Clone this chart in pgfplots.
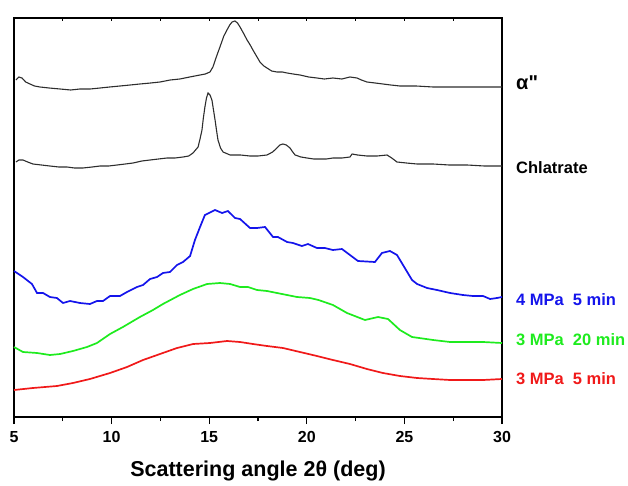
\documentclass[border=0pt]{standalone}
\usepackage{pgfplots}
\pgfplotsset{compat=1.18}
\usepackage{fontspec}
\setmainfont{Liberation Sans}[Ligatures=TeXOff]
\definecolor{xblue}{RGB}{20,20,235}
\definecolor{xgreen}{RGB}{30,235,30}
\definecolor{xred}{RGB}{240,25,25}
\definecolor{xgray}{RGB}{45,45,45}
\begin{document}
\begin{tikzpicture}
\begin{axis}[
  at={(0,0)}, anchor=south west,
  scale only axis, width=488pt, height=399pt,
  xmin=5, xmax=30, ymin=0, ymax=399,
  axis line style={line width=1.3pt},
  xtick={5,10,...,30}, minor x tick num=1,
  ytick=\empty,
  xtick pos=bottom, tick align=outside,
  major tick length=7pt, minor tick length=4pt,
  every tick/.style={black, line width=1.2pt},
  /pgf/number format/assume math mode=true,
  ticklabel style={font=\bfseries\fontsize{16}{16}\selectfont},
  xticklabel style={yshift=-4pt},
  xlabel={Scattering angle 2θ (deg)},
  xlabel style={font=\bfseries\fontsize{21.5}{21.5}\selectfont, yshift=-11pt},
  clip=false,
]
% alpha'' phase
\addplot[xgray, line width=1.1pt] coordinates {
(5.10,337) (5.25,340) (5.41,339) (5.60,335) (5.82,333) (6.05,331) (6.33,330)
(6.80,329) (7.36,328) (7.90,327) (8.38,328) (8.90,328) (9.41,329) (9.90,330)
(10.43,331) (10.95,332) (11.45,333) (12.00,334) (12.48,335) (13.00,337)
(13.50,338) (14.00,340) (14.53,342) (14.80,343) (15.04,345) (15.19,350)
(15.40,362) (15.55,370) (15.75,381) (15.91,387) (16.05,392) (16.17,395)
(16.32,396) (16.45,394) (16.58,390) (16.75,384) (16.94,377) (17.10,372)
(17.24,367) (17.45,360) (17.60,355) (17.80,351) (17.96,349) (18.20,346)
(18.47,345) (18.75,345) (18.99,344) (19.30,343) (19.65,342) (20.10,340)
(20.52,339) (20.90,338) (21.34,339) (21.80,338) (22.21,340) (22.57,339)
(22.80,337) (23.08,335) (23.50,334) (23.90,333) (24.30,332) (24.77,331)
(25.60,331) (26.47,330) (27.30,330) (28.21,330) (29.10,330) (30.00,330)
};
% clathrate
\addplot[xgray, line width=1.1pt] coordinates {
(5.10,255) (5.25,257) (5.46,257) (5.70,255) (5.97,253) (6.40,252) (6.84,251)
(7.30,250) (7.72,250) (8.10,249) (8.53,249) (9.00,250) (9.41,251) (9.85,251)
(10.28,252) (10.70,253) (11.10,254) (11.55,256) (11.97,257) (12.40,258)
(12.84,259) (13.25,259) (13.66,260) (13.95,261) (14.17,264) (14.43,270)
(14.53,278) (14.63,287) (14.70,299) (14.78,310) (14.86,319) (14.94,324)
(15.04,322) (15.14,317) (15.22,307) (15.30,297) (15.38,286) (15.45,277)
(15.58,269) (15.71,265) (16.07,262) (16.60,262) (17.09,261) (17.50,261)
(17.96,262) (18.25,265) (18.47,269) (18.62,272) (18.78,273) (18.95,272)
(19.14,269) (19.28,265) (19.40,262) (19.70,260) (20.01,259) (20.35,258)
(20.68,258) (21.00,258) (21.34,259) (21.80,259) (22.21,260) (22.32,263)
(22.60,262) (23.08,261) (23.60,261) (24.11,262) (24.35,259) (24.62,255)
(25.10,254) (25.65,253) (26.47,253) (27.30,252) (28.21,252) (29.10,251)
(30.00,251)
};
% 4 MPa, 5 min
\addplot[xblue, line width=1.7pt] coordinates {
(5.00,146) (5.46,140) (5.92,133) (6.18,124) (6.49,124) (6.84,120) (7.20,119)
(7.51,114) (7.87,116) (8.38,114) (8.89,113) (9.25,116) (9.56,116) (9.92,121)
(10.43,121) (10.79,125) (11.30,130) (11.61,132) (11.97,138) (12.33,140)
(12.63,144) (12.99,145) (13.35,152) (13.66,155) (14.02,161) (14.27,177)
(14.53,190) (14.78,202) (15.30,207) (15.66,204) (15.96,206) (16.32,199)
(16.58,198) (17.09,189) (17.45,189) (17.86,190) (18.27,180) (18.52,180)
(18.99,175) (19.29,174) (19.75,171) (20.06,173) (20.52,169) (20.93,169)
(21.34,167) (21.80,168) (22.21,162) (22.62,156) (23.49,155) (23.85,164)
(24.26,166) (24.62,162) (24.93,152) (25.39,137) (25.65,133) (26.16,129)
(26.67,127) (27.34,124) (28.00,122) (28.51,121) (29.03,121) (29.39,118)
(29.74,119) (30.00,120)
};
% 3 MPa, 20 min
\addplot[xgreen, line width=1.7pt] coordinates {
(5.00,70) (5.46,65) (6.18,64) (6.84,62) (7.36,63) (8.02,66) (8.74,70)
(9.25,74) (9.92,83) (10.58,90) (11.45,100) (12.12,107) (12.63,113)
(13.50,122) (14.17,128) (14.89,133) (15.55,134) (16.07,133) (16.58,130)
(16.99,130) (17.45,127) (17.96,126) (18.47,124) (18.99,122) (19.50,120)
(20.16,119) (20.60,117) (21.34,112) (22.06,104) (22.98,97) (23.65,100)
(24.16,98) (24.77,87) (25.39,80) (26.47,77) (27.34,75) (28.21,75)
(29.03,75) (30.00,74)
};
% 3 MPa, 5 min
\addplot[xred, line width=1.7pt] coordinates {
(5.00,27) (5.97,29) (7.20,31) (8.02,34) (8.89,38) (9.92,44) (10.79,50)
(11.61,57) (12.48,63) (13.35,69) (14.17,73) (15.04,74) (15.91,76)
(16.58,75) (17.24,73) (17.96,71) (18.78,69) (19.65,65) (20.52,61)
(21.34,57) (22.21,53) (23.08,48) (23.90,44) (24.77,41) (25.65,39)
(26.47,38) (27.34,37) (29.03,37) (30.00,38)
};
% curve labels
\begin{scope}[every node/.style={anchor=west, inner sep=0pt, xshift=14pt}]
\node[font=\bfseries\fontsize{20}{20}\selectfont] at (axis cs:30,334) {α"};
\node[font=\bfseries\fontsize{16.5}{16.5}\selectfont] at (axis cs:30,249) {Chlatrate};
\node[text=xblue, font=\bfseries\fontsize{16.5}{16.5}\selectfont] at (axis cs:30,117) {4 MPa\hspace{0.55em}5 min};
\node[text=xgreen, font=\bfseries\fontsize{16.5}{16.5}\selectfont] at (axis cs:30,77) {3 MPa\hspace{0.55em}20 min};
\node[text=xred, font=\bfseries\fontsize{16.5}{16.5}\selectfont] at (axis cs:30,38) {3 MPa\hspace{0.55em}5 min};
\end{scope}
\end{axis}
% small inward ticks along the top edge
\begin{axis}[
  at={(0,0)}, anchor=south west,
  scale only axis, width=488pt, height=399pt,
  xmin=5, xmax=30, ymin=0, ymax=399,
  axis line style={draw=none},
  xtick={5,7.5,...,30}, xticklabels={},
  ytick=\empty,
  xtick pos=top, tick align=inside,
  major tick length=3pt,
  every tick/.style={black, line width=1pt},
]
\end{axis}
\pgfresetboundingbox
\path[use as bounding box] (-14pt,-68pt) rectangle (614pt,417pt);
\end{tikzpicture}
\end{document}
